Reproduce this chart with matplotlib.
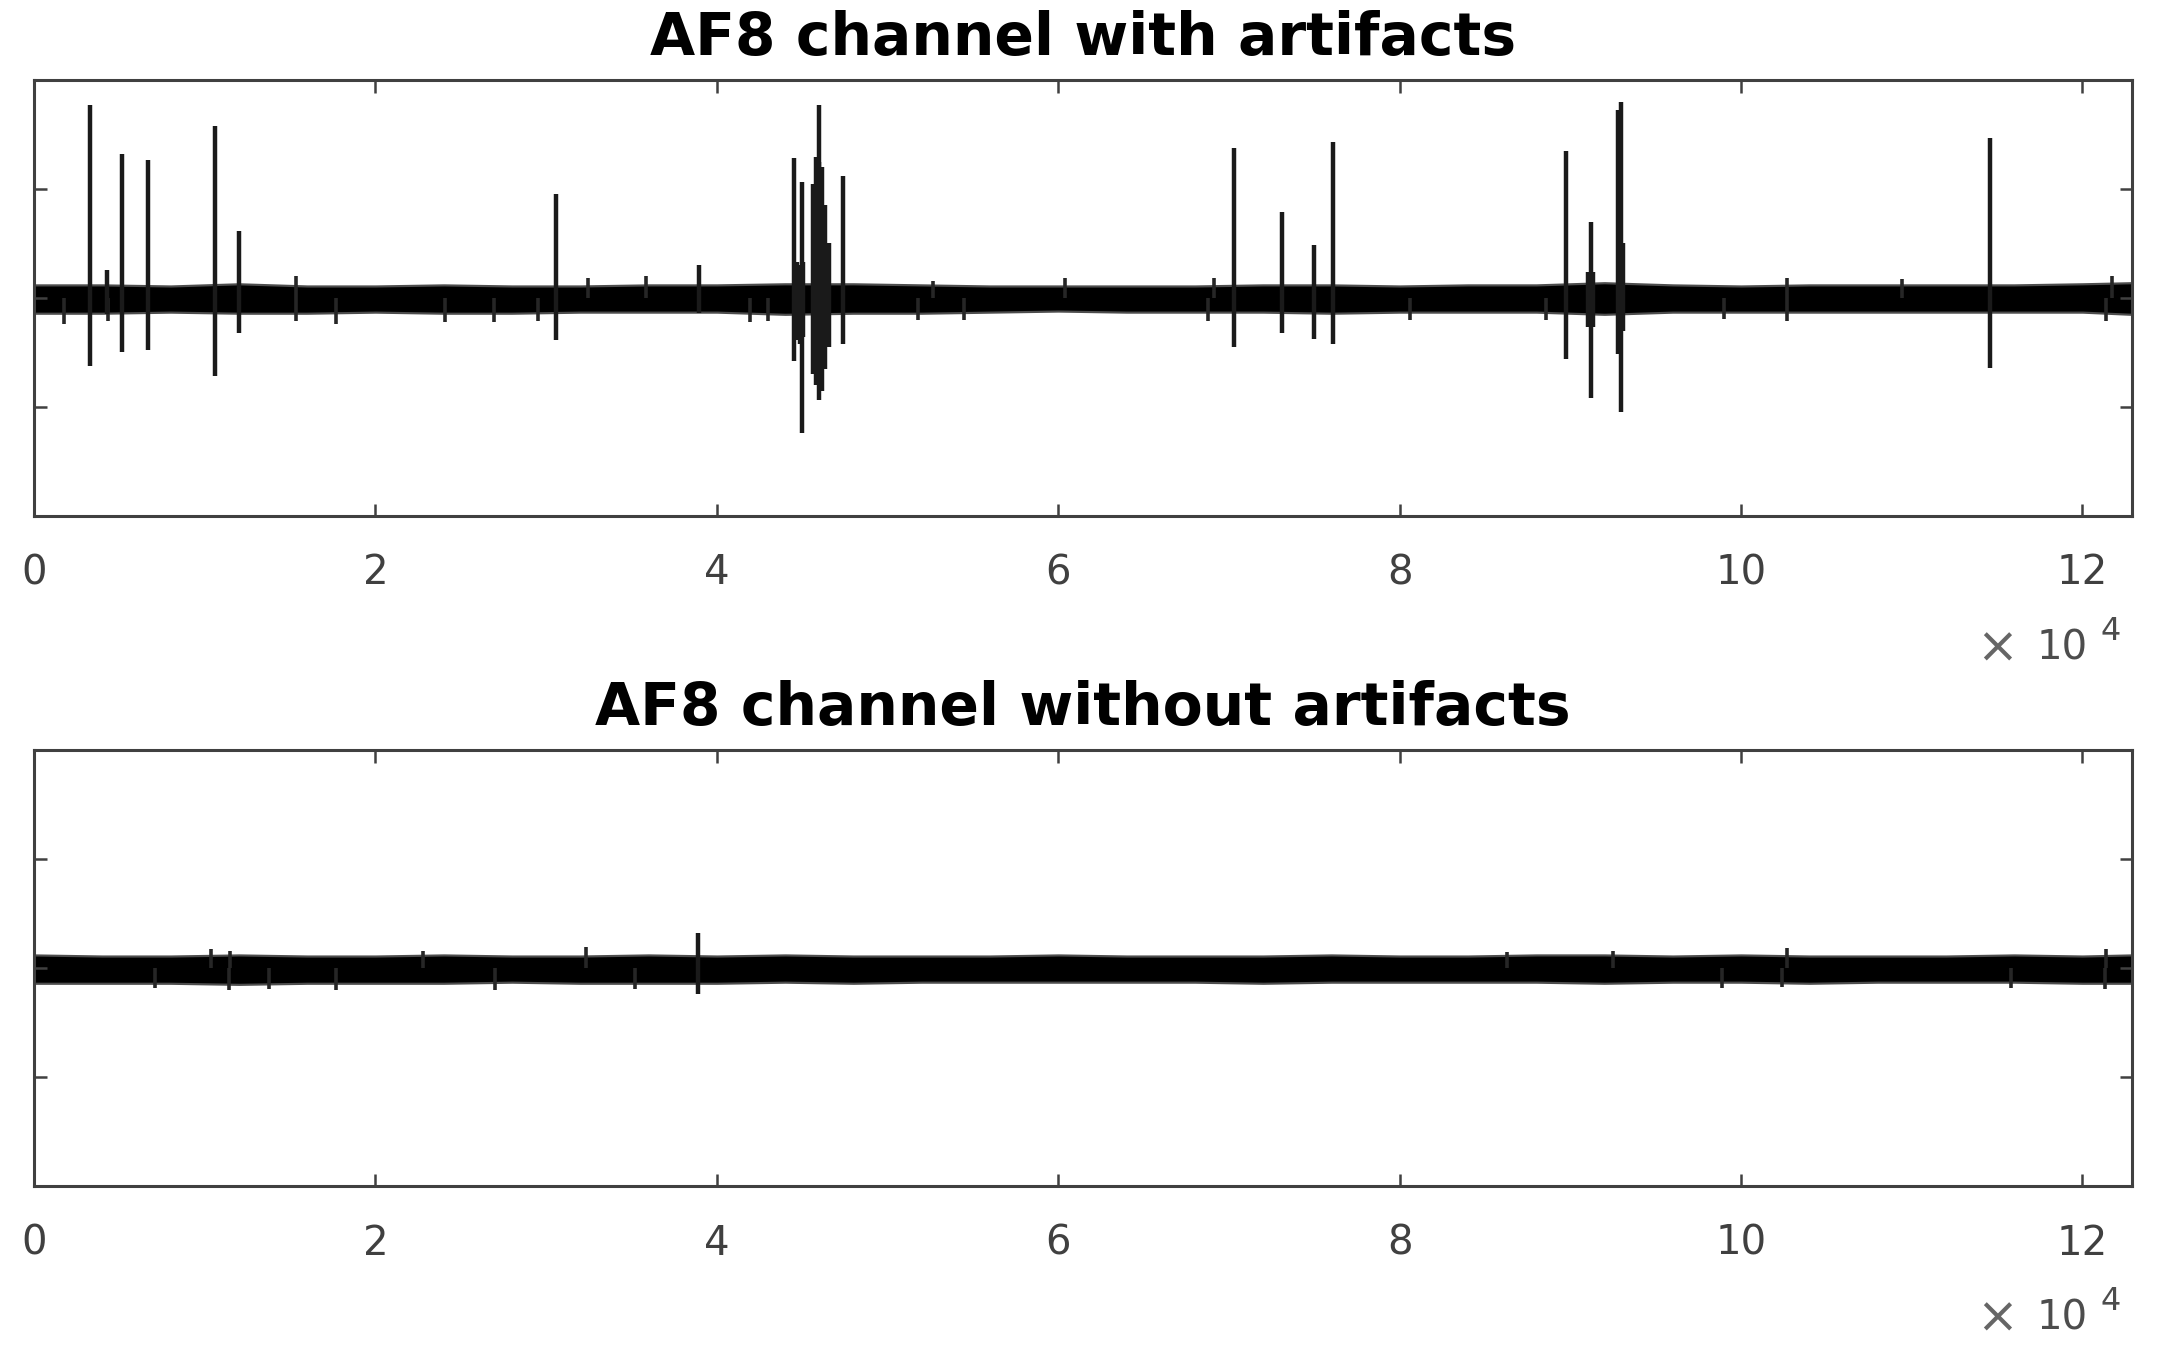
#AF8 channel before and after artifact removal
#Two stacked EEG traces, samples on the x axis (x 10^4)

import numpy as np
import matplotlib.pyplot as plt

#DejaVu is wide enough to match the loose MATLAB letter spacing
plt.rcParams['font.family'] = ['DejaVu Sans']

#Length of the recording in samples
n_samples = 122880

#Panel titles and x tick labels (in units of 10^4 samples)
titles = ['AF8 channel with artifacts', 'AF8 channel without artifacts']
xtick_vals = [0, 2, 4, 6, 8, 10, 12]

#Background EEG band: upper and lower envelope read every 4000 samples
env_x = [0, 4000, 8000, 12000, 16000, 20000, 24000, 28000, 32000, 36000,
         40000, 44000, 48000, 52000, 56000, 60000, 64000, 68000, 72000, 76000,
         80000, 84000, 88000, 92000, 96000, 100000, 104000, 108000, 112000,
         116000, 120000, 122880]
top_hi = [0.11, 0.11, 0.10, 0.12, 0.10, 0.10, 0.11, 0.10, 0.10, 0.11,
          0.11, 0.12, 0.12, 0.11, 0.10, 0.10, 0.10, 0.10, 0.11, 0.11,
          0.10, 0.11, 0.11, 0.13, 0.11, 0.10, 0.11, 0.11, 0.11,
          0.11, 0.12, 0.13]
top_lo = [-0.13, -0.13, -0.12, -0.13, -0.13, -0.12, -0.13, -0.13, -0.12, -0.12,
          -0.12, -0.14, -0.13, -0.13, -0.12, -0.11, -0.12, -0.12, -0.12, -0.13,
          -0.12, -0.12, -0.12, -0.14, -0.12, -0.12, -0.12, -0.12, -0.12,
          -0.12, -0.12, -0.14]
bot_hi = [0.11, 0.10, 0.10, 0.11, 0.10, 0.10, 0.11, 0.10, 0.10, 0.11,
          0.10, 0.11, 0.10, 0.10, 0.10, 0.11, 0.10, 0.10, 0.10, 0.11,
          0.10, 0.10, 0.11, 0.11, 0.10, 0.11, 0.10, 0.10, 0.10,
          0.11, 0.10, 0.11]
bot_lo = [-0.13, -0.13, -0.13, -0.14, -0.13, -0.13, -0.13, -0.12, -0.13, -0.13,
          -0.13, -0.12, -0.13, -0.12, -0.12, -0.12, -0.12, -0.12, -0.13, -0.12,
          -0.12, -0.12, -0.12, -0.13, -0.12, -0.12, -0.13, -0.12, -0.12,
          -0.12, -0.13, -0.13]

#Artifact spikes in the raw channel: sample, positive peak, negative peak
top_spike_x = [3267, 4245, 5163, 6686, 10587, 11991, 30556, 38935,
               44508, 44976, 45972, 47377, 70304, 73137, 74988, 76124,
               89725, 91189, 92945, 114567]
top_spike_up = [1.77, 0.26, 1.32, 1.27, 1.58, 0.61, 0.95, 0.30,
                1.28, 1.06, 1.77, 1.12, 1.38, 0.79, 0.49, 1.43,
                1.35, 0.70, 1.80, 1.47]
top_spike_dn = [-0.62, -0.15, -0.50, -0.48, -0.72, -0.32, -0.39, -0.14,
                -0.58, -1.24, -0.94, -0.42, -0.45, -0.32, -0.38, -0.42,
                -0.56, -0.92, -1.05, -0.64]

#Dense burst around the big artifacts (eye blinks / movement)
burst_x = [44700, 44850, 45050, 45650, 45800, 46000, 46150, 46350, 46550,
           91050, 91300, 92800, 93100]
burst_up = [0.33, 0.30, 0.33, 1.05, 1.29, 1.25, 1.20, 0.85, 0.50,
            0.24, 0.24, 1.72, 0.50]
burst_dn = [-0.39, -0.42, -0.36, -0.70, -0.80, -0.72, -0.85, -0.65, -0.45,
            -0.27, -0.27, -0.51, -0.30]

#Small excursions just outside the band
top_tick_x = [15350, 32460, 35860, 52660, 60400, 69100, 102680, 109460, 121750,
              1757, 4304, 15349, 17700, 24100, 26970, 29500, 41950, 43000,
              51760, 54500, 68750, 80630, 88550, 99000, 102700, 121360]
top_tick_y = [0.20, 0.18, 0.20, 0.16, 0.18, 0.18, 0.18, 0.17, 0.20,
              -0.24, -0.21, -0.21, -0.24, -0.22, -0.22, -0.21, -0.22, -0.21,
              -0.20, -0.20, -0.21, -0.20, -0.20, -0.19, -0.21, -0.21]

#Cleaned channel: one small residual spike and small excursions
bot_spike_x = [38888]
bot_spike_up = [0.32]
bot_spike_dn = [-0.24]
bot_tick_x = [10380, 11470, 22800, 32340, 86270, 92500, 102670, 121360,
              7110, 11430, 13780, 17700, 26980, 35210, 98860, 102400, 115840, 121300]
bot_tick_y = [0.17, 0.16, 0.16, 0.19, 0.15, 0.16, 0.18, 0.17,
              -0.18, -0.20, -0.19, -0.20, -0.20, -0.19, -0.18, -0.17, -0.18, -0.19]

panels = [
    (top_hi, top_lo, [top_spike_x, burst_x], [top_spike_up, burst_up],
     [top_spike_dn, burst_dn], top_tick_x, top_tick_y),
    (bot_hi, bot_lo, [bot_spike_x], [bot_spike_up], [bot_spike_dn],
     bot_tick_x, bot_tick_y),
]

#Create the figure window
fig = plt.figure(figsize=(21.57, 13.55), dpi=100)
axes_pos = [[0.0158, 0.6192, 0.9724, 0.3218],
            [0.0158, 0.1247, 0.9724, 0.3218]]

for i in range(2):
    hi, lo, sx, su, sd, tx, ty = panels[i]
    ax = fig.add_axes(axes_pos[i])

    #Band of background activity: thin dark edge then black core
    ax.fill_between(env_x, np.array(lo) - 0.02, np.array(hi) + 0.02,
                    color='0.3', lw=0)
    ax.fill_between(env_x, lo, hi, color='black', lw=0)

    #Small excursions
    ax.vlines(tx, 0, ty, color='0.15', lw=2.6)

    #Spikes
    for k in range(len(sx)):
        ax.vlines(sx[k], sd[k], su[k], color='0.1', lw=3.2)

    #Limits, ticks and box like the MATLAB original
    ax.set_xlim(0, n_samples)
    ax.set_ylim(-2, 2)
    ax.set_yticks([-1, 0, 1])
    ax.set_yticklabels([])
    ax.set_xticks(np.array(xtick_vals) * 1e4)
    ax.set_xticklabels([str(v) for v in xtick_vals])
    ax.tick_params(direction='in', top=True, right=True, length=9, width=1.8,
                   color='0.25', labelcolor='0.25', labelsize=29, pad=27)
    for sp in ax.spines.values():
        sp.set_linewidth(2.2)
        sp.set_color('0.25')

    ax.set_title(titles[i], fontsize=42, fontweight='bold', pad=18)

    #Exponent label under the right end of the x axis
    ax.text(0.936, -0.303, '\u00d7', transform=ax.transAxes,
            ha='center', va='center', fontsize=36, color='0.4')
    ax.text(0.979, -0.330, '10', transform=ax.transAxes,
            ha='right', va='baseline', fontsize=29, color='0.3')
    ax.text(0.995, -0.284, '4', transform=ax.transAxes,
            ha='right', va='baseline', fontsize=23, color='0.3')

fig.savefig('out.png', dpi=100)
